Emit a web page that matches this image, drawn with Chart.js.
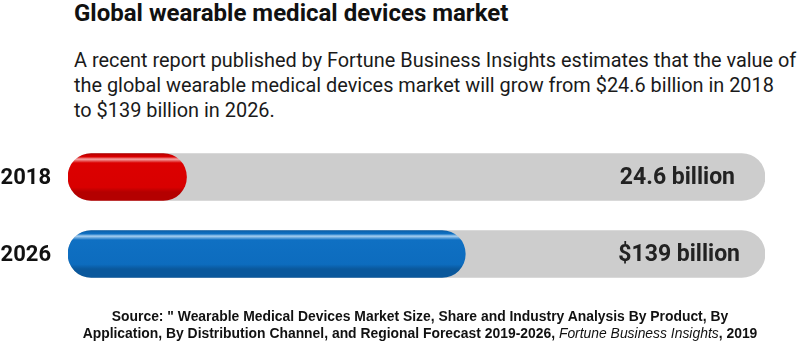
<!DOCTYPE html>
<html>
<head>
<meta charset="utf-8">
<script src="https://cdn.jsdelivr.net/npm/chart.js@4"></script>
<style>
  html, body { margin: 0; padding: 0; background: #fff; }
  body { width: 800px; height: 360px; position: relative; overflow: hidden; font-family: Roboto, sans-serif; }
  #canvas { position: absolute; left: 0; top: 0; }
  .title { position: absolute; left: 74px; top: -1px; font-weight: 700; font-size: 24px; color: #111; white-space: nowrap; }
  .intro { position: absolute; left: 74px; top: 48px; font-size: 19.9px; line-height: 25px; color: #1a1a1a; white-space: nowrap; }
  .source { position: absolute; left: 0; width: 840px; top: 308px; text-align: center; font-family: "Liberation Sans", Arial, sans-serif; font-weight: 700; font-size: 13.9px; line-height: 16.5px; color: #111; white-space: nowrap; }
  .source i { font-weight: 400; }
</style>
</head>
<body>
<div class="title">Global wearable medical devices market</div>
<div class="intro">A recent report published by Fortune Business Insights estimates that the value of<br>the global wearable medical devices market will grow from $24.6 billion in 2018<br>to $139 billion in 2026.</div>
<canvas id="canvas" width="800" height="360"></canvas>
<div class="source">Source: " Wearable Medical Devices Market Size, Share and Industry Analysis By Product, By<br>Application, By Distribution Channel, and Regional Forecast 2019-2026, <i>Fortune Business Insights</i>, 2019</div>
<script>
const years = ['2018', '2026'];
const valueLabels = ['24.6 billion', '$139 billion'];
// share of the grey track that is filled, as drawn in the picture
const fillShare = [17, 57];
const trackFull = [100, 100];

const shades = [
  ['#b30000', '#f4a6a6', '#dc0000', '#d80000', '#b40000'],
  ['#0b5fa8', '#a9d0f0', '#0f70c3', '#0d6cbe', '#0a589c']
];

const canvas = document.getElementById('canvas');

function fillGradient(ctx) {
  const chart = ctx.chart;
  const yScale = chart.scales.y;
  const s = shades[ctx.dataIndex];
  if (!yScale) return s[2];
  const y = yScale.getPixelForValue(ctx.dataIndex);
  if (!isFinite(y)) return s[2];
  const g = chart.ctx.createLinearGradient(0, y - 23.5, 0, y + 23.5);
  g.addColorStop(0, s[0]);
  g.addColorStop(0.07, s[2]);
  g.addColorStop(0.12, s[1]);
  g.addColorStop(0.2, s[2]);
  g.addColorStop(0.72, s[3]);
  g.addColorStop(0.82, s[4]);
  g.addColorStop(1, s[4]);
  return g;
}

const labelPlugin = {
  id: 'labels',
  afterDatasetsDraw(chart) {
    const c = chart.ctx;
    const yScale = chart.scales.y;
    const xScale = chart.scales.x;
    c.save();
    c.textBaseline = 'middle';
    c.textAlign = 'right';
    years.forEach((yr, i) => {
      const y = yScale.getPixelForValue(i);
      c.fillStyle = '#111';
      c.font = '700 22px Roboto';
      c.fillText(yr, 51, y + 1);
      c.fillStyle = '#222';
      c.font = '700 23px Roboto';
      c.fillText(valueLabels[i], xScale.right - 30 + i * 5, y + 1);
    });
    c.restore();
  }
};

const chart = new Chart(canvas, {
  type: 'bar',
  data: {
    labels: years,
    datasets: [{
      data: fillShare,
      backgroundColor: fillGradient,
      order: 1
    }, {
      data: trackFull,
      backgroundColor: '#cdcdcd',
      order: 2
    }]
  },
  options: {
    indexAxis: 'y',
    responsive: false,
    animation: false,
    layout: { padding: { left: 68, right: 35, top: 138.5, bottom: 67.5 } },
    datasets: {
      bar: {
        grouped: false,
        barThickness: 47,
        borderRadius: 24,
        borderSkipped: false
      }
    },
    scales: {
      x: { display: false, min: 0, max: 100 },
      y: { display: false }
    },
    plugins: {
      legend: { display: false },
      tooltip: { enabled: false }
    }
  },
  plugins: [labelPlugin]
});
// re-run once so the gradients see the laid-out scale
chart.update();
</script>
</body>
</html>
